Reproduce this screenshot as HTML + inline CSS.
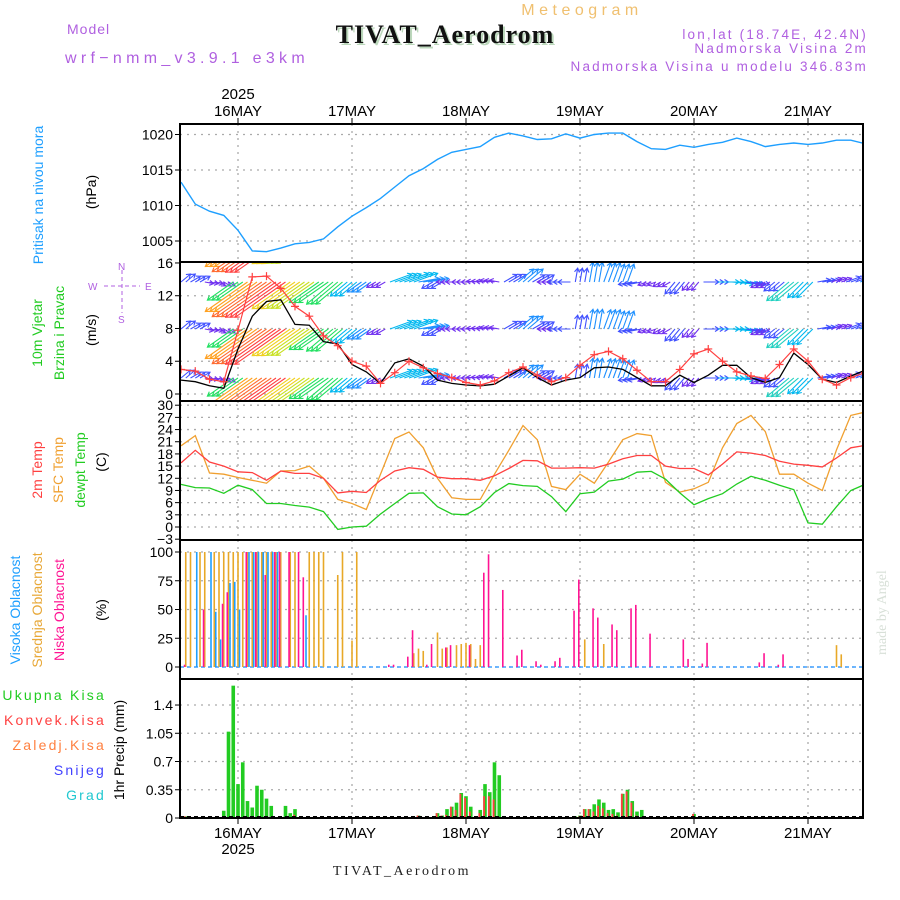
<!DOCTYPE html>
<html><head><meta charset="utf-8"><title>Meteogram TIVAT_Aerodrom</title>
<style>
html,body{margin:0;padding:0;background:#fff;}
svg{display:block;font-family:"Liberation Sans",sans-serif;}
</style></head>
<body>
<svg id="chart" xmlns="http://www.w3.org/2000/svg" width="900" height="900" viewBox="0 0 900 900">
<rect x="0" y="0" width="900" height="900" fill="#fff"/>
<text x="582" y="15" fill="#f0c070" font-size="16" text-anchor="middle" letter-spacing="4.5">Meteogram</text>
<text x="67" y="34" fill="#b060e0" font-size="14" letter-spacing="1">Model</text>
<text x="65" y="63" fill="#b060e0" font-size="16" letter-spacing="4.3">wrf−nmm_v3.9.1 e3km</text>
<text x="447" y="45" fill="#bcd8bc" font-size="26" font-weight="bold" text-anchor="middle" font-family="Liberation Serif, serif" letter-spacing="1">TIVAT_Aerodrom</text>
<text x="445" y="43" fill="#111" font-size="26" font-weight="bold" text-anchor="middle" font-family="Liberation Serif, serif" letter-spacing="1">TIVAT_Aerodrom</text>
<text x="868" y="39" fill="#b060e0" font-size="13.5" text-anchor="end" letter-spacing="2.2">lon,lat (18.74E, 42.4N)</text>
<text x="868" y="53" fill="#b060e0" font-size="13.5" text-anchor="end" letter-spacing="2.2">Nadmorska Visina 2m</text>
<text x="868" y="71" fill="#b060e0" font-size="13.5" text-anchor="end" letter-spacing="2.2">Nadmorska Visina u modelu 346.83m</text>
<text x="238" y="99" fill="#000" font-size="15" text-anchor="middle">2025</text>
<text x="238" y="854" fill="#000" font-size="15" text-anchor="middle">2025</text>
<text x="402" y="875" fill="#222" font-size="14" text-anchor="middle" font-family="Liberation Serif, serif" letter-spacing="2.5">TIVAT_Aerodrom</text>
<text transform="translate(886,655) rotate(-90)" fill="#d8e0d8" font-size="14" font-family="Liberation Serif, serif">made by Angel</text>

<text transform="translate(43,195) rotate(-90)" fill="#1e9fff" font-size="14" text-anchor="middle">Pritisak na nivou mora</text>
<text transform="translate(96,192) rotate(-90)" fill="#000" font-size="14" text-anchor="middle">(hPa)</text>
<text transform="translate(42,333) rotate(-90)" fill="#22cc22" font-size="14" text-anchor="middle">10m Vjetar</text>
<text transform="translate(64,333) rotate(-90)" fill="#22cc22" font-size="14" text-anchor="middle">Brzina i Pravac</text>
<text transform="translate(96,330) rotate(-90)" fill="#000" font-size="14" text-anchor="middle">(m/s)</text>
<g fill="#b060e0" stroke="#b060e0" font-size="10">
<line x1="104" y1="286" x2="140" y2="286" stroke-dasharray="4,3" stroke-width="1"/>
<line x1="122" y1="270" x2="122" y2="313" stroke-dasharray="4,3" stroke-width="1"/>
<text x="88" y="290" stroke="none">W</text><text x="145" y="290" stroke="none">E</text>
<text x="118" y="270" stroke="none">N</text><text x="118" y="323" stroke="none">S</text>
</g>
<text transform="translate(42,470) rotate(-90)" fill="#ff4040" font-size="14" text-anchor="middle">2m Temp</text>
<text transform="translate(63,470) rotate(-90)" fill="#f0a030" font-size="14" text-anchor="middle">SFC Temp</text>
<text transform="translate(85,470) rotate(-90)" fill="#22cc22" font-size="14" text-anchor="middle">dewpt Temp</text>
<text transform="translate(106,462) rotate(-90)" fill="#000" font-size="14" text-anchor="middle">(C)</text>
<text transform="translate(20,610) rotate(-90)" fill="#1e9fff" font-size="14" text-anchor="middle">Visoka Oblacnost</text>
<text transform="translate(42,610) rotate(-90)" fill="#e8a838" font-size="14" text-anchor="middle">Srednja Oblacnost</text>
<text transform="translate(64,610) rotate(-90)" fill="#ff1493" font-size="14" text-anchor="middle">Niska Oblacnost</text>
<text transform="translate(106,610) rotate(-90)" fill="#000" font-size="14" text-anchor="middle">(%)</text>
<g font-size="14" text-anchor="end" letter-spacing="2.2">
<text x="106" y="700" fill="#22cc22">Ukupna Kisa</text>
<text x="106" y="725" fill="#ff4040">Konvek.Kisa</text>
<text x="106" y="750" fill="#ff8040">Zaledj.Kisa</text>
<text x="106" y="775" fill="#4040ff">Snijeg</text>
<text x="106" y="800" fill="#20c8d0">Grad</text>
</g>
<text transform="translate(124,750) rotate(-90)" fill="#000" font-size="14" text-anchor="middle">1hr Precip (mm)</text>
<g id="plot"></g>
</svg>
<script>
// ---- data (time axis: hours from 15 MAY 12Z) ----
const dayLabels = ["16MAY","17MAY","18MAY","19MAY","20MAY","21MAY"];
const dayHours = [12,36,60,84,108,132];
const stepHours = 3; // 3-hourly series
const pressure = [1013.3,1010.2,1009.2,1008.6,1006.5,1003.6,1003.5,1004.0,1004.6,1004.8,1005.3,1007.0,1008.5,1009.7,1011.0,1012.6,1014.2,1015.2,1016.5,1017.5,1017.9,1018.3,1019.6,1020.2,1019.8,1019.3,1019.4,1020.1,1019.5,1020.0,1020.2,1020.2,1019.0,1018.0,1017.9,1018.5,1018.2,1018.6,1018.9,1019.5,1019.0,1018.3,1018.6,1018.8,1018.6,1018.8,1019.2,1019.2,1018.7];
const windSpeed = [1.7,1.5,1.0,0.7,5.5,9.5,11.3,11.5,8.5,8.4,6.4,6.1,3.6,2.7,1.3,3.8,4.3,3.4,1.7,1.3,1.1,1.0,1.2,2.2,3.2,2.0,1.1,1.7,2.0,3.2,3.3,3.0,2.0,1.0,1.0,2.3,1.4,2.3,3.5,3.5,2.0,1.4,2.0,5.0,3.6,1.8,1.4,2.2,2.9];
const windGust = [3.0,2.8,1.8,1.5,7.8,14.3,14.4,12.9,10.7,9.5,7.1,5.9,4.0,3.4,1.3,2.6,4.0,3.2,2.5,2.0,1.4,1.1,1.6,2.6,3.3,2.3,1.5,2.0,3.5,4.8,5.2,4.3,2.9,1.5,1.5,3.0,4.9,5.5,4.0,2.7,2.2,1.9,3.6,5.5,4.0,1.8,1.1,2.0,2.6];
const windDir = [230,240,280,300,55,55,55,55,55,55,55,50,50,55,60,250,250,260,60,90,90,95,100,240,230,240,90,90,190,190,200,200,80,70,60,40,40,270,270,275,280,60,50,50,45,260,250,250,245];
const temp2m = [15.8,18.9,16.0,15.0,13.6,13.4,11.5,13.8,13.2,13.2,12.0,8.4,8.8,8.5,11.5,13.8,14.6,14.2,12.3,11.9,11.9,11.5,12.6,14.4,16.4,16.3,14.5,14.5,14.6,14.5,15.5,16.8,17.6,17.6,15.0,14.4,14.4,12.8,15.5,18.5,18.2,17.6,16.2,15.5,15.2,14.8,17.0,19.5,20.1];
const tempSfc = [20.0,22.5,13.3,13.0,12.2,11.5,10.8,13.8,13.9,15.0,12.0,6.8,5.8,4.3,13.0,21.8,23.4,19.5,12.0,7.2,6.8,6.8,13.0,18.9,25.0,21.5,10.0,9.2,13.0,10.8,16.0,21.5,23.0,22.5,11.0,8.6,9.4,11.0,19.5,25.5,27.5,23.5,13.0,13.0,10.8,9.0,19.0,27.5,28.3];
const dewpt = [10.5,9.7,9.6,8.3,10.3,9.2,5.8,5.8,5.3,4.9,3.8,-0.6,0.0,0.2,3.2,5.8,8.3,8.4,5.0,3.2,3.0,5.0,8.5,10.7,10.2,10.0,7.5,3.8,8.2,8.6,11.3,11.8,13.5,13.7,11.8,8.4,5.5,7.0,8.2,10.6,12.5,11.5,10.3,9.2,1.0,0.7,5.0,9.0,10.5];
// clouds (hourly, sparse)
const cloudMidHours = [1,2,4,5,7,8,9,10,11,12,13,14,15,16,17,18,19,20,21,23,24,27,28,29,30,33,34,36,37,49,50,51,54,55,56,58,59,60,61,62,63,85,89,138,139];
const cloudMidVals = [100,100,100,100,100,100,100,100,100,100,100,100,100,100,100,100,100,100,100,100,100,100,100,100,100,80,100,23,100,12,16,14,30,16,17,19,20,21,20,7,19,24,20,19,11];
const cloudHighHours = [3,6,7,8,10,11,12,14,15,16,17,18,19,20,26];
const cloudHighVals = [100,100,48,24,73,74,50,100,100,100,100,100,100,100,45];
const cloudLowHours = [1,5,9,10,14,16,18,20,21,23,25,26,44,45,48,49,52,53,56,57,61,64,65,68,71,72,75,76,79,80,83,84,87,88,91,92,95,96,99,106,107,110,111,122,123,126,127];
const cloudLowVals = [2,50,55,65,100,100,80,100,100,100,100,78,2,2,9,32,2,20,17,19,19,82,98,67,10,15,5,2,5,8,49,76,51,43,37,32,51,54,29,24,7,3,21,4,12,2,11];
// precipitation (hourly, sparse)
const precipHours = [1,9,10,11,12,13,14,15,16,17,18,19,22,23,24,26,50,54,55,56,57,58,59,60,61,63,64,65,66,67,83,84,85,86,87,88,89,90,91,92,93,94,95,96,97,108];
const precipTotal = [0.02,0.09,1.07,1.64,0.42,0.69,0.21,0.13,0.40,0.35,0.24,0.15,0.15,0.06,0.11,0.01,0.03,0.06,0.03,0.11,0.14,0.19,0.31,0.27,0.14,0.10,0.42,0.32,0.69,0.53,0.02,0.03,0.11,0.11,0.17,0.23,0.19,0.10,0.11,0.07,0.30,0.35,0.21,0.08,0.10,0.05];
const precipConv = [0.02,0.0,0.0,0.0,0.0,0.0,0.0,0.0,0.0,0.0,0.0,0.0,0.0,0.0,0.04,0.0,0.03,0.06,0.03,0.04,0.14,0.10,0.30,0.25,0.08,0.06,0.27,0.27,0.23,0.0,0.0,0.02,0.11,0.11,0.08,0.15,0.12,0.06,0.05,0.03,0.30,0.33,0.19,0.03,0.0,0.05];
// tick labels
const pressureTicks = [1005,1010,1015,1020];
const windTicks = [0,4,8,12,16];
const tempTicks = [-3,0,3,6,9,12,15,18,21,24,27,30];
const cloudTicks = [0,25,50,75,100];
const precipTicks = [0,0.35,0.7,1.05,1.4];
const precipTickLabels = ["0","0.35","0.7","1.05","1.4"];

// ---- axes ----
const X0 = 181, PXH = 4.75;
const xAt = h => X0 + h * PXH;
const panels = {
  p: {top:124, bottom:262, y: v => 241 - (v - 1005) * 7.1},
  w: {top:262, bottom:401, y: v => 394 - v * 8.19},
  t: {top:401, bottom:540, y: v => 527 - v * 4.06},
  c: {top:540, bottom:679, y: v => 667 - v * 1.15},
  r: {top:679, bottom:818, y: v => 818 - v * 80.7}
};
const XL = 180, XR = 863;
const NS = "http://www.w3.org/2000/svg";
const plot = document.getElementById('plot');
function mk(tag, attrs, parent) {
  const e = document.createElementNS(NS, tag);
  for (const k in attrs) e.setAttribute(k, attrs[k]);
  (parent || plot).appendChild(e);
  return e;
}
const defs = mk('defs', {});
for (const key in panels) {
  const P = panels[key];
  const cp = mk('clipPath', {id: 'clip-' + key}, defs);
  mk('rect', {x: XL, y: P.top, width: XR - XL, height: P.bottom - P.top}, cp);
}
function grid(key, ticks, labels, name) {
  const P = panels[key];
  const g = mk('g', {});
  
  
  ticks.forEach((v, i) => {
    const y = P.y(v);
    if (y > P.top + 2 && y < P.bottom - 2) {
      const gl = mk('line', {x1: XL, x2: XR, y1: y, y2: y, stroke: '#aaa', 'stroke-width': 1.3, 'stroke-dasharray': '2,5'}, g);
      
      
    }
    mk('line', {x1: XL - 5, x2: XL, y1: y, y2: y, stroke: '#000', 'stroke-width': 1}, g);
    const t = mk('text', {x: XL - 7, y: y + 5, 'text-anchor': 'end', 'font-size': 14, fill: '#000'}, g);
    
    
    t.textContent = labels ? labels[i] : String(v).replace('-', '−');
  });
  dayHours.forEach(h => {
    const vl = mk('line', {x1: xAt(h), x2: xAt(h), y1: P.top, y2: P.bottom, stroke: '#aaa', 'stroke-width': 1.3, 'stroke-dasharray': '2,5'}, g);
    
    
  });
}
grid('p', pressureTicks, null, 'pressure');
grid('w', windTicks, null, 'wind');
grid('t', tempTicks, null, 'temperature');
grid('c', cloudTicks, null, 'cloud');
grid('r', precipTicks, precipTickLabels, 'precip');

function line(key, arr, color, name, width) {
  const P = panels[key];
  const d = arr.map((v, i) => (i ? 'L' : 'M') + xAt(i * stepHours).toFixed(1) + ',' + P.y(v).toFixed(1)).join(' ');
  const p = mk('path', {d: d, fill: 'none', stroke: color, 'stroke-width': width || 1.3, 'clip-path': 'url(#clip-' + key + ')'});
  
  
  return p;
}
line('p', pressure, '#1e9fff', 'pressure-line', 1.4);

function speedColor(s) {
  const cols = ['#8a2be2','#7030f0','#4050ff','#1e90ff','#00b8f0','#20d0c0','#20e060','#70e020','#c8e020','#f0d020','#ffa020','#ff6a30','#ff4040','#ff2a80','#ff1493'];
  return cols[Math.max(0, Math.min(cols.length - 1, Math.round(s)))];
}
const wg = mk('g', {'clip-path': 'url(#clip-w)'});


const rowYs = [237, 282, 329, 378];
rowYs.forEach(ry => {
  windSpeed.forEach((s, i) => {
    for (let sub = 0; sub < 3; sub++) {
      const h = i * stepHours + sub - 1;
      if (h < 0 || h > 144) continue;
      const x = xAt(h);
      const L = 4 + s * 5;
      const a = windDir[i] * Math.PI / 180;
      const dx = -Math.sin(a) * L, dy = Math.cos(a) * L;
      const col = speedColor(s);
      const ar = mk('path', {}, wg);
      const ex = x + dx, ey = ry + dy;
      const ux = dx / L, uy = dy / L;
      const hx1 = ex - ux * 4 - uy * 2.5, hy1 = ey - uy * 4 + ux * 2.5;
      const hx2 = ex - ux * 4 + uy * 2.5, hy2 = ey - uy * 4 - ux * 2.5;
      ar.setAttribute('d', `M${x.toFixed(1)},${ry} L${ex.toFixed(1)},${ey.toFixed(1)} M${hx1.toFixed(1)},${hy1.toFixed(1)} L${ex.toFixed(1)},${ey.toFixed(1)} L${hx2.toFixed(1)},${hy2.toFixed(1)}`);
      ar.setAttribute('stroke', col);
      ar.setAttribute('stroke-width', '1.1');
      ar.setAttribute('fill', 'none');
      
      
    }
  });
});
line('w', windSpeed, '#000', 'wind-speed-line', 1.3);
line('w', windGust, '#ff4040', 'wind-gust-line', 1.2);
windGust.forEach((v, i) => {
  const x = xAt(i * stepHours), y = panels.w.y(v);
  const m = mk('path', {d: `M${x - 4},${y} H${x + 4} M${x},${y - 4} V${y + 4}`, stroke: '#ff4040', 'stroke-width': 1.2, 'clip-path': 'url(#clip-w)'});
  
  
});

line('t', tempSfc, '#f0a030', 'sfc-temp-line', 1.3);
line('t', temp2m, '#ff4040', '2m-temp-line', 1.3);
line('t', dewpt, '#22cc22', 'dewpoint-line', 1.3);

const cg = mk('g', {'clip-path': 'url(#clip-c)'});


const base = mk('line', {x1: XL, x2: XR, y1: panels.c.y(0), y2: panels.c.y(0), stroke: '#40a0ff', 'stroke-width': 1.5, 'stroke-dasharray': '4,3'}, cg);


function cloudBars(hours, vals, color, off, name) {
  hours.forEach((h, i) => {
    const x = xAt(h) + off;
    const b = mk('line', {x1: x, x2: x, y1: panels.c.y(0), y2: panels.c.y(vals[i]), stroke: color, 'stroke-width': 1.6}, cg);
    
    
  });
}
cloudBars(cloudMidHours, cloudMidVals, '#e8a828', 0, 'mid-cloud-bar');
cloudBars(cloudHighHours, cloudHighVals, '#1e9fff', 1.5, 'high-cloud-bar');
cloudBars(cloudLowHours, cloudLowVals, '#ff1493', -1.2, 'low-cloud-bar');

const rg = mk('g', {'clip-path': 'url(#clip-r)'});


precipHours.forEach((h, i) => {
  const x = xAt(h);
  const y0 = panels.r.y(0);
  const b = mk('rect', {x: x - 1.8, y: panels.r.y(precipTotal[i]), width: 3.6, height: y0 - panels.r.y(precipTotal[i]), fill: '#22cc22'}, rg);
  
  
  if (precipConv[i] > 0) {
    const c = mk('rect', {x: x - 1.8, y: panels.r.y(precipConv[i]), width: 1.8, height: y0 - panels.r.y(precipConv[i]), fill: '#ff4040'}, rg);
    
    
  }
});
const pb = mk('line', {x1: XL, x2: XR, y1: 816.5, y2: 816.5, stroke: '#000', 'stroke-width': 1, 'stroke-dasharray': '4,3'});



for (const key in panels) {
  const P = panels[key];
  const f = mk('rect', {x: XL, y: P.top, width: XR - XL, height: P.bottom - P.top, fill: 'none', stroke: '#000', 'stroke-width': 2});
  
  
}
dayHours.forEach((h, i) => {
  const x = xAt(h);
  mk('line', {x1: x, x2: x, y1: 118, y2: 124, stroke: '#000', 'stroke-width': 1});
  mk('line', {x1: x, x2: x, y1: 818, y2: 824, stroke: '#000', 'stroke-width': 1});
  const t1 = mk('text', {x: x, y: 116, 'text-anchor': 'middle', 'font-size': 15, fill: '#000'});
  
  
  t1.textContent = dayLabels[i];
  const t2 = mk('text', {x: x, y: 838, 'text-anchor': 'middle', 'font-size': 15, fill: '#000'});
  
  
  t2.textContent = dayLabels[i];
});
</script>
</body></html>
